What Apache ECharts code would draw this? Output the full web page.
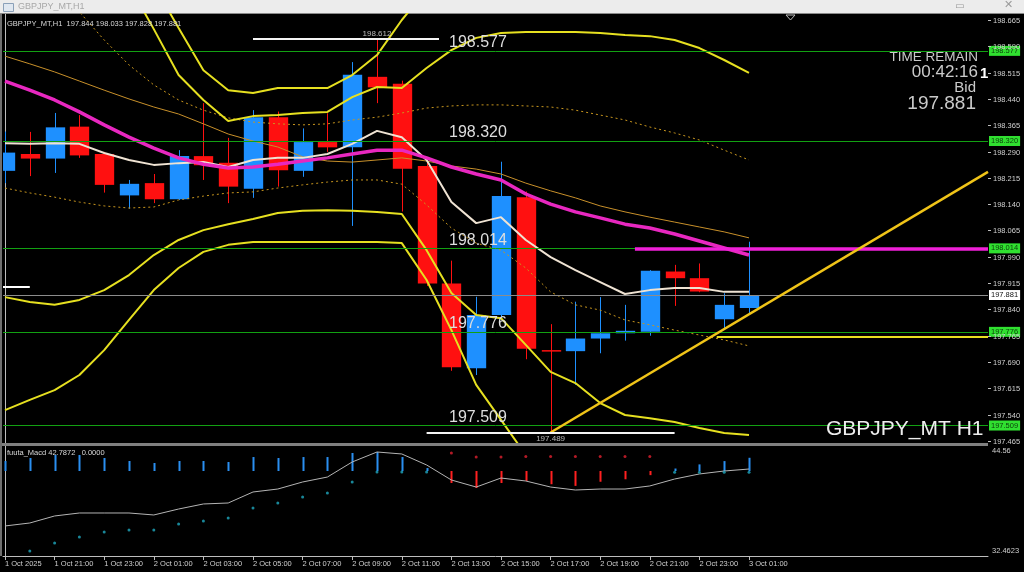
<!DOCTYPE html>
<html><head><meta charset="utf-8">
<script src="https://cdn.jsdelivr.net/npm/echarts@6/dist/echarts.min.js"></script>
<style>html,body{margin:0;padding:0;background:#000;overflow:hidden}#c{width:1024px;height:572px}</style>
</head><body><div id="c"></div>
<script>
// ---------- DATA ----------
const timeLabels = ['1 Oct 2025','1 Oct 21:00','1 Oct 23:00','2 Oct 01:00','2 Oct 03:00','2 Oct 05:00','2 Oct 07:00','2 Oct 09:00','2 Oct 11:00','2 Oct 13:00','2 Oct 15:00','2 Oct 17:00','2 Oct 19:00','2 Oct 21:00','2 Oct 23:00','3 Oct 01:00'];
const priceTicks = [197.465,197.540,197.615,197.690,197.765,197.840,197.915,197.990,198.065,198.140,198.215,198.290,198.365,198.440,198.515,198.590,198.665];
const macdTicks = [32.4623, 44.56];

const opens  = [198.235,198.283,198.270,198.361,198.283,198.165,198.200,198.154,198.277,198.258,198.184,198.388,198.235,198.317,198.302,198.503,198.483,198.249,197.914,197.672,197.824,198.160,197.724,197.721,197.757,197.772,197.776,197.948,197.929,197.812,197.844];
const highs  = [198.347,198.346,198.400,198.394,198.289,198.209,198.226,198.294,198.428,198.329,198.408,198.404,198.356,198.399,198.545,198.612,198.492,198.272,197.979,197.876,198.261,198.176,197.798,197.862,197.875,197.853,197.952,197.967,197.971,197.886,198.033];
const lows   = [198.200,198.220,198.229,198.272,198.173,198.127,198.143,198.152,198.209,198.143,198.158,198.190,198.218,198.289,198.078,198.428,198.119,197.907,197.665,197.653,197.810,197.698,197.489,197.625,197.715,197.751,197.765,197.850,197.889,197.786,197.828];
const closes = [198.287,198.270,198.359,198.279,198.195,198.198,198.154,198.277,198.251,198.190,198.388,198.237,198.317,198.302,198.509,198.473,198.241,197.914,197.675,197.824,198.163,197.728,197.722,197.757,197.772,197.779,197.950,197.929,197.891,197.853,197.881];

const maPink  = [198.491,198.465,198.437,198.403,198.366,198.331,198.300,198.272,198.254,198.243,198.246,198.254,198.263,198.272,198.283,198.294,198.294,198.272,198.246,198.226,198.209,198.169,198.140,198.118,198.101,198.083,198.072,198.055,198.035,198.015,197.995];
const maCream = [198.314,198.312,198.314,198.312,198.286,198.266,198.252,198.257,198.260,198.246,198.266,198.272,198.272,198.283,198.312,198.349,198.331,198.266,198.146,198.086,198.103,198.038,197.989,197.952,197.918,197.884,197.895,197.901,197.901,197.890,197.890];
const maBrown = [198.562,198.540,198.517,198.491,198.465,198.440,198.417,198.397,198.369,198.340,198.320,198.303,198.275,198.263,198.260,198.266,198.272,198.263,198.249,198.240,198.226,198.200,198.178,198.158,198.135,198.118,198.103,198.089,198.075,198.061,198.044];
const bandOuterUp = [199.007,199.007,199.007,199.007,199.007,198.893,198.765,198.642,198.522,198.465,198.457,198.471,198.471,198.471,198.508,198.565,198.665,198.751,198.850,198.880,198.900,198.900,198.900,198.900,198.900,198.900,198.900,198.880,198.870,198.860,198.850];
const bandInnerUp = [198.950,198.950,198.930,198.900,198.850,198.765,198.639,198.508,198.437,198.377,198.391,198.394,198.400,198.403,198.445,198.474,198.471,198.528,198.579,198.614,198.628,198.631,198.631,198.631,198.628,198.622,198.619,198.608,198.585,198.551,198.514];
const bandInnerLo = [197.875,197.861,197.853,197.867,197.895,197.938,197.995,198.038,198.066,198.083,198.098,198.115,198.121,198.123,198.121,198.118,198.112,198.009,197.887,197.824,197.815,197.739,197.662,197.630,197.573,197.539,197.530,197.519,197.502,197.488,197.482];
const bandOuterLo = [197.553,197.582,197.610,197.653,197.724,197.810,197.895,197.958,198.004,198.024,198.032,198.032,198.032,198.032,198.032,198.032,198.029,197.924,197.781,197.625,197.525,197.425,197.400,197.380,197.370,197.370,197.370,197.370,197.380,197.390,197.400];
const dotUp = [198.893,198.822,198.751,198.688,198.608,198.537,198.480,198.437,198.408,198.386,198.374,198.369,198.366,198.369,198.380,198.388,198.400,198.414,198.420,198.423,198.423,198.420,198.417,198.408,198.394,198.380,198.360,198.343,198.323,198.294,198.266];
const dotLo = [198.186,198.172,198.160,198.146,198.135,198.129,198.132,198.152,198.163,198.172,198.175,198.186,198.195,198.203,198.209,198.209,198.197,198.138,198.072,198.029,198.009,197.958,197.890,197.853,197.838,197.810,197.796,197.781,197.767,197.753,197.736];

const levels = [198.577, 198.320, 198.014, 197.776, 197.509];
const bidPrice = 197.881;
const prevMark = 197.904;
const pinkLevel = {from: 25.4, price: 198.014};
const trendYellow = [[22, 197.489], [39.637, 198.232]];
const flatYellow = {from: 28.7, price: 197.761};

const macdBase = 42.14;
const macdHist = [1.21,1.57,1.94,1.94,1.57,1.21,0.97,1.21,1.21,1.09,1.69,1.57,1.69,1.69,2.18,2.30,1.69,0.36,-1.45,-2.06,-1.45,-1.2,-1.6,-1.8,-1.3,-1.0,-0.5,0.3,0.8,1.2,1.6];
const macdLine = [35.49,35.85,36.70,37.06,37.06,37.06,36.82,37.54,38.15,38.27,39.60,39.96,40.81,41.41,43.23,44.44,44.20,42.87,41.05,40.20,41.29,40.93,40.20,39.84,39.96,39.96,40.33,41.17,41.78,42.14,42.38];
const macdDotUp = [null,32.4623,33.43,34.16,34.76,35.00,35.00,35.73,36.09,36.45,37.66,38.27,39.00,39.48,40.81,42.02,42.02,42.02,null,null,null,null,null,null,null,null,null,42.0,42.0,42.0,42.0];
const macdDotDn = [null,null,null,null,null,null,null,null,null,null,null,null,null,null,null,null,null,null,44.32,43.83,43.83,43.9,43.9,43.9,43.9,43.9,43.9,null,null,null,null];

// ---------- LAYOUT / STYLE ----------
const xMin = -0.0806, xMax = 39.637;
const yMin = 197.4592, yMax = 198.6821;
const mMin = 31.857, mMax = 45.165;
const FONT = 'Liberation Sans';
const BULL = '#1e90ff', BEAR = '#ff1010';
const AXIS = '#bdbdbd', LABEL = '#cfcfcf';
const tickBars = timeLabels.map((_, k) => k * 2);
const pair = arr => arr.map((v, i) => [i, v]);
const hiIdx = highs.indexOf(Math.max(...highs));
const loIdx = lows.indexOf(Math.min(...lows));

function line(arr, color, width, type, z) {
  return {type: 'line', xAxisIndex: 0, yAxisIndex: 0, data: pair(arr), symbol: 'none', silent: true,
    lineStyle: {color, width, type: type || 'solid'}, z: z || 3, clip: true};
}
// right-hand price scale: tick marks + labels placed through the axis scale
function priceScaleSeries(values) {
  return {type: 'custom', xAxisIndex: 0, yAxisIndex: 0, clip: false, silent: true, z: 6,
    data: values.map(v => [xMax, v]), encode: {x: 0, y: 1},
    renderItem: (p, api) => {
      const v = api.value(1);
      const pt = api.coord([api.value(0), v]);
      const y = Math.round(pt[1]) + 0.5;
      return {type: 'group', children: [
        {type: 'line', shape: {x1: pt[0], y1: y, x2: pt[0] + 3, y2: y}, style: {stroke: AXIS, lineWidth: 1}},
        {type: 'text', x: pt[0] + 5, y: y, style: {text: v.toFixed(3), fill: LABEL, font: '7.5px ' + FONT, verticalAlign: 'middle', align: 'left'}}
      ]};
    }};
}

const chart = echarts.init(document.getElementById('c'), null, {renderer: 'canvas'});
const option = {
  backgroundColor: '#000',
  animation: false,
  textStyle: {fontFamily: FONT},
  grid: [
    {left: 3, top: 14, width: 985, height: 429, containLabel: false, outerBoundsMode: 'none'},
    {left: 3, top: 446, width: 985, height: 110, containLabel: false, outerBoundsMode: 'none'}
  ],
  xAxis: [
    {gridIndex: 0, type: 'value', min: xMin, max: xMax, show: false},
    {gridIndex: 1, type: 'value', min: xMin, max: xMax,
      axisLine: {show: true, lineStyle: {color: AXIS, width: 1}},
      axisTick: {show: true, length: 4, customValues: tickBars, lineStyle: {color: AXIS}},
      axisLabel: {customValues: tickBars, formatter: v => timeLabels[Math.round(v / 2)], color: LABEL, fontSize: 7.5, fontFamily: FONT, align: 'left', margin: 4},
      splitLine: {show: false}}
  ],
  yAxis: [
    {gridIndex: 0, type: 'value', position: 'right', min: yMin, max: yMax,
      axisLine: {show: true, lineStyle: {color: AXIS}},
      axisTick: {show: false}, axisLabel: {show: false},
      splitLine: {show: false}, minorTick: {show: false}, minorSplitLine: {show: false}},
    {gridIndex: 1, type: 'value', position: 'right', min: mMin, max: mMax,
      axisLine: {show: true, lineStyle: {color: AXIS}},
      axisTick: {show: false},
      axisLabel: {customValues: macdTicks, formatter: v => String(v), color: LABEL, fontSize: 7.5, fontFamily: FONT, margin: 4},
      splitLine: {show: false}}
  ],
  series: [
    // candles
    {type: 'custom', xAxisIndex: 0, yAxisIndex: 0, z: 2, clip: true, silent: true,
      data: opens.map((o, i) => [i, o, closes[i], lows[i], highs[i]]),
      encode: {x: 0, y: [1, 2, 3, 4]},
      renderItem: (p, api) => {
        const i = api.value(0), o = api.value(1), c = api.value(2), l = api.value(3), h = api.value(4);
        const pO = api.coord([i, o]), pC = api.coord([i, c]), pL = api.coord([i, l]), pH = api.coord([i, h]);
        const w = api.size([1, 0])[0] * 0.78;
        const col = c > o ? BULL : BEAR;
        const x = Math.round(pO[0]);
        const top = Math.min(pO[1], pC[1]), bot = Math.max(pO[1], pC[1]);
        return {type: 'group', children: [
          {type: 'line', shape: {x1: x + 0.5, y1: pH[1], x2: x + 0.5, y2: pL[1]}, style: {stroke: col, lineWidth: 1}},
          {type: 'rect', shape: {x: x + 0.5 - w / 2, y: top, width: w, height: Math.max(bot - top, 1.5)}, style: {fill: col}}
        ]};
      }},
    line(dotUp, '#c8961e', 1, [2, 3]),
    line(dotLo, '#c8961e', 1, [2, 3]),
    line(bandOuterUp, '#e6e020', 2),
    line(bandInnerUp, '#e6e020', 2),
    line(bandInnerLo, '#e6e020', 2),
    line(bandOuterLo, '#e6e020', 2),
    line(maBrown, '#c8902a', 1),
    line(maCream, '#efe3d3', 2, 'solid', 4),
    line(maPink, '#e828c0', 3.5, 'solid', 4),
    // level lines with in-chart labels
    {type: 'line', xAxisIndex: 0, yAxisIndex: 0, data: [], z: 5,
      markLine: {symbol: 'none', silent: true, animation: false, precision: 3,
        lineStyle: {color: '#12a012', width: 1, type: 'solid'},
        label: {show: true, position: 'insideStartTop', distance: [446, 0], formatter: p => Number(p.value).toFixed(3), color: '#dedede', fontSize: 16, fontFamily: FONT},
        data: levels.map(v => ({yAxis: v}))}},
    priceScaleSeries(priceTicks),
    // axis boxes for levels
    {type: 'line', xAxisIndex: 0, yAxisIndex: 0, data: [], z: 7,
      markLine: {symbol: 'none', silent: true, animation: false, precision: 3,
        lineStyle: {color: 'rgba(0,0,0,0)', width: 1, type: 'solid'},
        label: {show: true, position: 'end', distance: 1, formatter: p => Number(p.value).toFixed(3), color: '#0b3d0b', backgroundColor: '#30e030', fontSize: 7.5, fontFamily: FONT, padding: [1, 2, 1, 2]},
        data: levels.map(v => ({yAxis: v}))}},
    // bid line
    {type: 'line', xAxisIndex: 0, yAxisIndex: 0, data: [], z: 7,
      markLine: {symbol: 'none', silent: true, animation: false, precision: 3,
        lineStyle: {color: '#8c8c8c', width: 1, type: 'solid'},
        label: {show: true, position: 'end', distance: 1, formatter: p => Number(p.value).toFixed(3), color: '#111', backgroundColor: '#ffffff', fontSize: 7.5, fontFamily: FONT, padding: [1, 2, 1, 2]},
        data: [{yAxis: bidPrice}]}},
    // objects: pink level, trend line, flat yellow, prev mark
    {type: 'line', xAxisIndex: 0, yAxisIndex: 0, data: [], z: 5,
      markLine: {symbol: 'none', silent: true, animation: false, label: {show: false}, precision: 3,
        data: [
          [{coord: [pinkLevel.from, pinkLevel.price], lineStyle: {color: '#f020d8', width: 3.5, type: 'solid'}}, {coord: [xMax, pinkLevel.price]}],
          [{coord: trendYellow[0], lineStyle: {color: '#f0c418', width: 2.5, type: 'solid'}}, {coord: trendYellow[1]}],
          [{coord: [flatYellow.from, flatYellow.price], lineStyle: {color: '#e8e020', width: 2, type: 'solid'}}, {coord: [xMax, flatYellow.price]}],
          [{coord: [xMin, prevMark], lineStyle: {color: '#ffffff', width: 2, type: 'solid'}}, {coord: [1, prevMark]}]
        ]}},
    // high / low markers
    {type: 'scatter', xAxisIndex: 0, yAxisIndex: 0, z: 6, symbolSize: 0, silent: true,
      data: [{value: [hiIdx, highs[hiIdx]], label: {position: 'top', distance: 1}},
             {value: [loIdx, lows[loIdx]], label: {position: 'bottom', distance: 2}}],
      label: {show: true, formatter: p => p.value[1].toFixed(3), color: '#e0e0e0', fontSize: 8, fontFamily: FONT},
      markLine: {symbol: 'none', silent: true, animation: false, label: {show: false}, precision: 3,
        lineStyle: {color: '#f4f4f4', width: 2, type: 'solid'},
        data: [
          [{coord: [hiIdx - 5, highs[hiIdx]]}, {coord: [hiIdx + 2.5, highs[hiIdx]]}],
          [{coord: [loIdx - 5, lows[loIdx]]}, {coord: [loIdx + 5, lows[loIdx]]}]
        ]}},
    // MACD histogram
    {type: 'custom', xAxisIndex: 1, yAxisIndex: 1, z: 3, silent: true,
      data: pair(macdHist), encode: {x: 0, y: 1},
      renderItem: (p, api) => {
        const i = api.value(0), v = api.value(1);
        const a = api.coord([i, macdBase]), b = api.coord([i, macdBase + v]);
        const x = Math.round(a[0]) + 0.5;
        return {type: 'line', shape: {x1: x, y1: a[1], x2: x, y2: b[1]}, style: {stroke: v >= 0 ? '#2a8ff0' : '#ff2020', lineWidth: 2}};
      }},
    {type: 'line', xAxisIndex: 1, yAxisIndex: 1, data: pair(macdLine), symbol: 'none', silent: true, z: 4,
      lineStyle: {color: '#b4b4b4', width: 1}},
    {type: 'scatter', xAxisIndex: 1, yAxisIndex: 1, data: pair(macdDotUp).filter(d => d[1] != null), symbolSize: 3, silent: true, z: 4,
      itemStyle: {color: '#1fa9bf'}},
    {type: 'scatter', xAxisIndex: 1, yAxisIndex: 1, data: pair(macdDotDn).filter(d => d[1] != null), symbolSize: 3, silent: true, z: 4,
      itemStyle: {color: '#e02030'}}
  ],
  graphic: [
    {type: 'rect', left: 0, top: 0, shape: {width: 1024, height: 13}, style: {fill: '#ececec'}, z: 1},
    {type: 'rect', left: 0, top: 13, shape: {width: 1024, height: 1}, style: {fill: '#8a8a8a'}, z: 1},
    {type: 'rect', left: 3, top: 3, shape: {width: 10, height: 8}, style: {fill: '#dfe7f0', stroke: '#8aa0b8', lineWidth: 1}, z: 2},
    {type: 'text', left: 18, top: 2, style: {text: 'GBPJPY_MT,H1', fill: '#a8a8a8', font: '9px ' + FONT}, z: 2},
    {type: 'text', left: 955, top: 1, style: {text: '▭', fill: '#9a9a9a', font: '10px DejaVu Sans'}, z: 2},
    {type: 'text', left: 1004, top: 0, style: {text: '✕', fill: '#9a9a9a', font: '11px DejaVu Sans'}, z: 2},
    {type: 'polygon', shape: {points: [[786, 15], [795, 15], [790.5, 20]]}, style: {fill: 'none', stroke: '#bbbbbb', lineWidth: 1}, z: 10},
    {type: 'rect', left: 0, top: 443, shape: {width: 988, height: 3}, style: {fill: '#7f7f7f'}, z: 10},
    {type: 'rect', left: 0, top: 14, shape: {width: 2, height: 542}, style: {fill: '#6f6f6f'}, z: 10},
    {type: 'text', left: 7, top: 20, style: {text: 'GBPJPY_MT,H1  197.844 198.033 197.828 197.881', fill: '#d8d8d8', font: '7.5px ' + FONT}, z: 10},
    {type: 'text', left: 7, top: 449, style: {text: 'fuuta_Macd 42.7872   0.0000', fill: '#d8d8d8', font: '7.5px ' + FONT}, z: 10},
    {type: 'text', right: 46, top: 50, style: {text: 'TIME REMAIN', fill: '#cacaca', font: '13.5px ' + FONT, align: 'right'}, z: 10},
    {type: 'text', right: 46, top: 64, style: {text: '00:42:16', fill: '#cacaca', font: '17px ' + FONT, align: 'right'}, z: 10},
    {type: 'text', left: 980, top: 66, style: {text: '1', fill: '#ffffff', font: 'bold 15px ' + FONT}, z: 10},
    {type: 'text', right: 48, top: 80, style: {text: 'Bid', fill: '#cacaca', font: '15px ' + FONT, align: 'right'}, z: 10},
    {type: 'text', right: 48, top: 94, style: {text: '197.881', fill: '#cacaca', font: '19px ' + FONT, align: 'right'}, z: 10},
    {type: 'text', left: 826, top: 419, style: {text: 'GBPJPY_MT H1', fill: '#eeeeee', font: '21px ' + FONT}, z: 10}
  ]
};
chart.setOption(option);
</script>
</body></html>
